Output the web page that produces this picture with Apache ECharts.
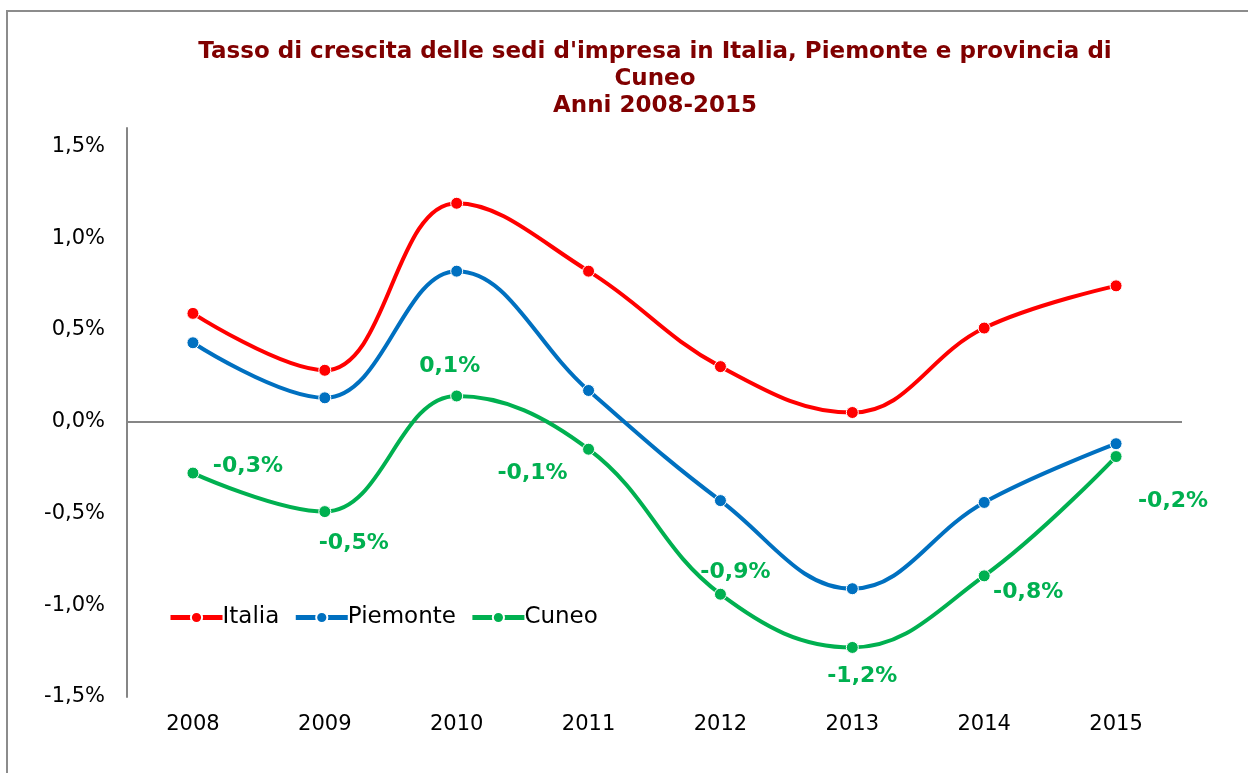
<!DOCTYPE html>
<html>
<head>
<meta charset="utf-8">
<script src="https://cdn.jsdelivr.net/npm/echarts@6/dist/echarts.min.js"></script>
<style>
  html, body { margin: 0; padding: 0; background: #fff; }
  #chart { width: 1248px; height: 773px; }
</style>
</head>
<body>
<div id="chart"></div>
<script>
// dati (valori in %)
let anni = ['2008', '2009', '2010', '2011', '2012', '2013', '2014', '2015'];
let italia = [0.59, 0.28, 1.19, 0.82, 0.30, 0.05, 0.51, 0.74];
let piemonte = [0.43, 0.13, 0.82, 0.17, -0.43, -0.91, -0.44, -0.12];
let cuneo = [-0.28, -0.49, 0.14, -0.15, -0.94, -1.23, -0.84, -0.19];
let yTicks = [-1.5, -1.0, -0.5, 0.0, 0.5, 1.0, 1.5];

// spostamento etichette Cuneo (px)
let labelOffsets = [[55, -7], [29, 32], [-7, -30], [-56, 24], [15, -22], [10, 29], [44, 16], [57, 45]];

let fmt = function (v, dec) {
    return v.toFixed(dec).replace('.', ',') + '%';
};

let font = 'DejaVu Sans, Verdana, sans-serif';

let lineSeries = function (name, data, color) {
    return {
        name: name,
        type: 'line',
        data: data,
        smooth: 0.4,
        symbol: 'circle',
        symbolSize: 12,
        lineStyle: { color: color, width: 4 },
        itemStyle: { color: color, borderColor: '#fff', borderWidth: 1 },
        emphasis: { disabled: true },
        z: 3
    };
};

let cuneoSeries = lineSeries('Cuneo', cuneo.map(function (v, i) {
    return {
        value: v,
        label: { offset: labelOffsets[i] }
    };
}), '#00B050');
cuneoSeries.label = {
    show: true,
    position: 'inside',
    color: '#00B050',
    fontFamily: font,
    fontWeight: 'bold',
    fontSize: 22,
    formatter: function (p) { return fmt(p.value, 1); }
};

let italiaSeries = lineSeries('Italia', italia, '#FF0000');
// linea dello zero
italiaSeries.markLine = {
    silent: true,
    symbol: 'none',
    label: { show: false },
    lineStyle: { color: '#868686', width: 2, type: 'solid' },
    data: [{ yAxis: 0 }],
    z: 1
};

let chart = echarts.init(document.getElementById('chart'));
chart.setOption({
    animation: false,
    backgroundColor: '#fff',
    title: {
        text: "Tasso di crescita delle sedi d'impresa in Italia, Piemonte e provincia di\nCuneo\nAnni 2008-2015",
        left: 650,
        textAlign: 'center',
        top: 34,
        textStyle: {
            color: '#800000',
            fontFamily: font,
            fontWeight: 'bold',
            fontSize: 23,
            lineHeight: 27
        }
    },
    legend: {
        left: 163,
        top: 601,
        itemWidth: 52,
        itemHeight: 14,
        itemGap: 14,
        lineStyle: { width: 5 },
        textStyle: { fontFamily: font, fontSize: 23, color: '#000', padding: [0, 0, 0, -5] },
        data: ['Italia', 'Piemonte', 'Cuneo']
    },
    grid: { left: 127, right: 66, top: 128, bottom: 76 },
    xAxis: {
        type: 'category',
        data: anni,
        axisLine: { show: false },
        axisTick: { show: false },
        axisLabel: { fontFamily: font, fontSize: 21, color: '#000', margin: 17 }
    },
    yAxis: {
        type: 'value',
        min: yTicks[0],
        max: 1.6,
        interval: 0.5,
        axisLine: { show: true, lineStyle: { color: '#868686', width: 2 } },
        axisTick: { show: false },
        splitLine: { show: false },
        axisLabel: {
            fontFamily: font,
            fontSize: 21,
            color: '#000',
            margin: 22,
            showMaxLabel: false,
            formatter: function (v) {
                return yTicks.indexOf(Math.round(v * 10) / 10) >= 0 ? fmt(v, 1) : '';
            }
        }
    },
    graphic: [{
        type: 'rect',
        shape: { x: 7, y: 11, width: 1300, height: 900 },
        style: { fill: null, stroke: '#8c8c8c', lineWidth: 2 },
        silent: true
    }],
    series: [
        italiaSeries,
        lineSeries('Piemonte', piemonte, '#0070C0'),
        cuneoSeries
    ]
});
</script>
</body>
</html>
